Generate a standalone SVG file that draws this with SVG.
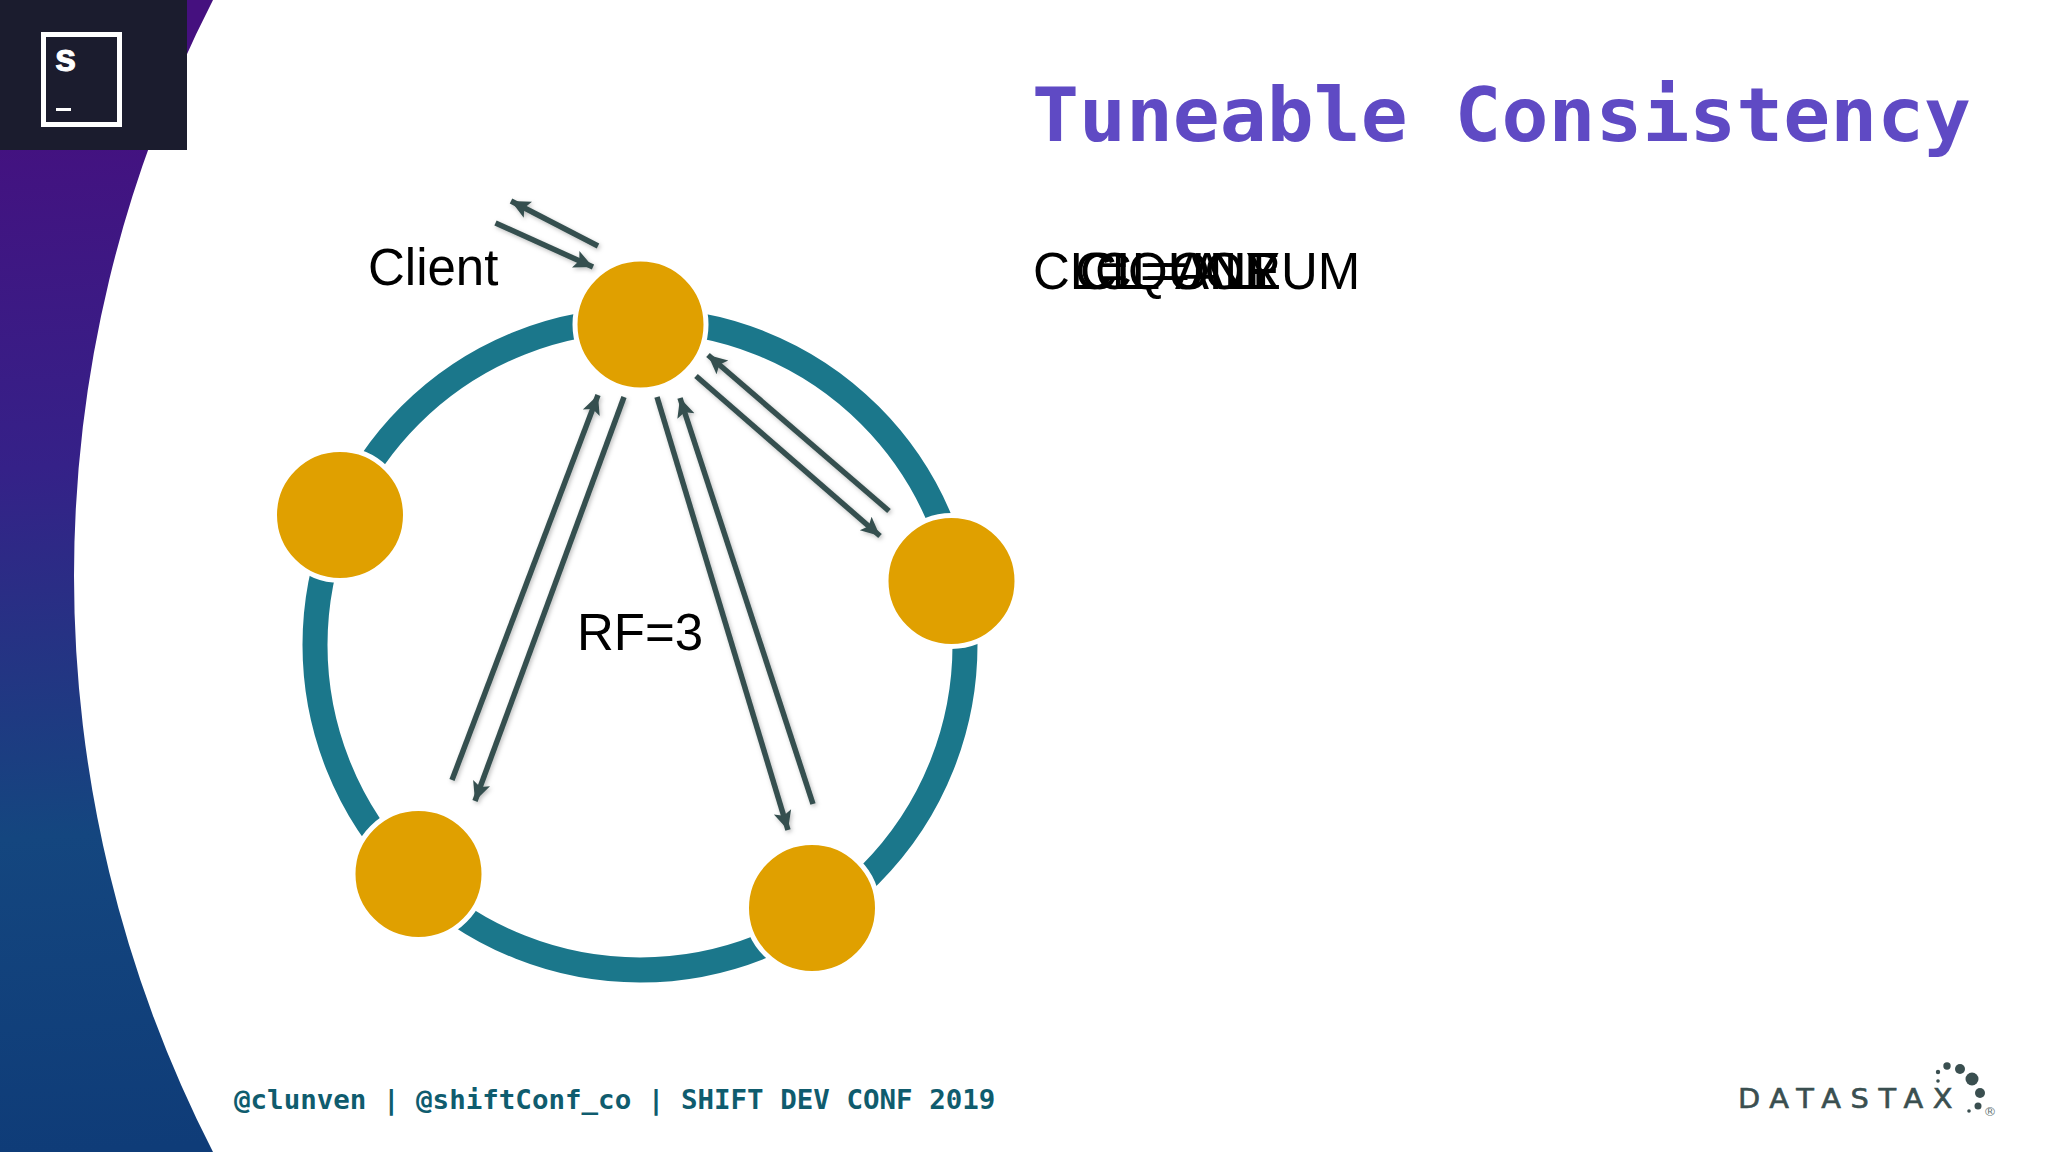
<svg xmlns="http://www.w3.org/2000/svg" width="2048" height="1152" viewBox="0 0 2048 1152">
<style>
.a{font-family:"Liberation Sans",Arial,sans-serif;font-size:51px;fill:#000}
.m{font-family:"DejaVu Sans Mono",monospace;font-weight:700}
.arrow{fill:none;stroke:#36504f;stroke-width:5.5;marker-end:url(#tip);filter:url(#sh)}
.node{fill:#e0a000;stroke:#fff;stroke-width:5}
.dot{fill:#3a4f50}
</style>
<defs>
<linearGradient id="band" x1="0" y1="100" x2="60" y2="1152" gradientUnits="userSpaceOnUse">
<stop offset="0" stop-color="#45107f"/><stop offset=".35" stop-color="#352188"/><stop offset=".7" stop-color="#14467f"/><stop offset="1" stop-color="#0f3c78"/>
</linearGradient>
<marker id="tip" markerUnits="userSpaceOnUse" markerWidth="24" markerHeight="24" refX="19" refY="10" orient="auto"><path d="M0 1L19 10L0 19L4 10Z" fill="#36504f"/></marker>
<filter id="sh" x="-20%" y="-20%" width="140%" height="140%"><feDropShadow dx="1.5" dy="2" stdDeviation="2" flood-color="#000" flood-opacity=".25"/></filter>
</defs>
<rect width="2048" height="1152" fill="#fff"/>
<path d="M0 0H213A1263 1263 0 0 0 213 1152H0Z" fill="url(#band)"/>
<g id="logo-shift">
<rect width="187" height="150" fill="#1b1c2e"/>
<rect x="43.500" y="34.500" width="76" height="90" fill="none" stroke="#fff" stroke-width="5"/>
<text x="55" y="71" font-family="'Liberation Sans',sans-serif" font-weight="700" font-size="38" fill="#fff" stroke="#fff" stroke-width="1">s</text>
<rect x="56" y="108" width="15" height="3" fill="#fff"/>
</g>
<text id="title" class="m" transform="translate(1032 141) scale(1 .95)" font-size="78" fill="#5f4ac4">Tuneable Consistency</text>
<g id="consistency-levels">
<text class="a" x="1033" y="289">CL=QUORUM</text>
<text class="a" x="1075" y="289">CL=ONE</text>
<text class="a" x="1080" y="289">CL=ANY</text>
<text class="a" x="1095" y="289">CL=ALL</text>
</g>
<text id="client-label" class="a" x="368" y="285">Client</text>
<text id="rf-label" class="a" x="577" y="650">RF=3</text>
<circle id="ring" cx="640" cy="645" r="325" fill="none" stroke="#1b778b" stroke-width="25"/>
<g id="node-top"><circle class="node" cx="640.500" cy="324.500" r="65.500"/></g>
<g id="node-right"><circle class="node" cx="951.500" cy="581" r="65.500"/></g>
<g id="node-bottom-right"><circle class="node" cx="812" cy="908" r="65.500"/></g>
<g id="node-bottom-left"><circle class="node" cx="418.500" cy="874" r="65.500"/></g>
<g id="node-left"><circle class="node" cx="340" cy="515" r="65.500"/></g>
<g id="connectors">
<line class="arrow" x1="598" y1="246" x2="511" y2="201"/>
<line class="arrow" x1="495.500" y1="223" x2="593" y2="267"/>
<line class="arrow" x1="889" y1="511" x2="708" y2="355"/>
<line class="arrow" x1="696" y1="376" x2="880" y2="536"/>
<line class="arrow" x1="452" y1="780" x2="598" y2="395"/>
<line class="arrow" x1="624" y1="397" x2="475" y2="801"/>
<line class="arrow" x1="657" y1="397" x2="788" y2="830"/>
<line class="arrow" x1="813" y1="804" x2="680" y2="398"/>
</g>
<text id="footer" class="m" transform="translate(234 1109) scale(1 .95)" font-size="27.500" fill="#0f5c6e">@clunven | @shiftConf_co | SHIFT DEV CONF 2019</text>
<g id="logo-datastax">
<text x="1738" y="1108" font-family="'DejaVu Sans',sans-serif" font-size="27" fill="#3a4f50" stroke="#3a4f50" stroke-width=".6" letter-spacing="9" textLength="224" lengthAdjust="spacingAndGlyphs">DATASTAX</text>
<circle class="dot" cx="1938" cy="1072" r="2.200"/><circle class="dot" cx="1947" cy="1066" r="3.700"/><circle class="dot" cx="1960" cy="1069" r="5"/><circle class="dot" cx="1972" cy="1079" r="6.500"/><circle class="dot" cx="1980" cy="1093" r="5"/><circle class="dot" cx="1978" cy="1106" r="3.500"/><circle class="dot" cx="1969" cy="1111" r="1.800"/><circle class="dot" cx="1938" cy="1081" r="1.800"/>
<text x="1990" y="1116" text-anchor="middle" font-family="'DejaVu Sans',sans-serif" font-size="13" fill="#6a7a7a">®</text>
</g>
</svg>
